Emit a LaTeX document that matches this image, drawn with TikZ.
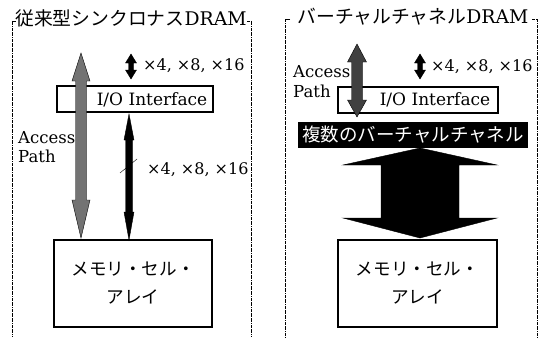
\documentclass[tikz,border=0pt]{standalone}
\usepackage{fontspec}
\setmainfont{DejaVu Serif}
\newfontfamily\jpfont{Noto Sans CJK JP}
\newcommand{\latfont}{\fontsize{17}{19}\selectfont}
\newcommand{\widfont}{\fontsize{16}{19}\selectfont}
\newcommand{\ttlfont}{\fontsize{18.8}{20}\selectfont}

% vertical double arrow: [style]{x}{top}{bottom}{head half}{head top}{head bottom}{shaft half}
\newcommand{\vdarrow}[8][]{%
  \draw[#1] (#2,#3) -- (#2+#5,#3+#6) -- (#2+#8,#3+#6) -- (#2+#8,#4-#7)
    -- (#2+#5,#4-#7) -- (#2,#4) -- (#2-#5,#4-#7) -- (#2-#8,#4-#7)
    -- (#2-#8,#3+#6) -- (#2-#5,#3+#6) -- cycle;}

\tikzset{
  frameline/.style={thin, densely dash dot},
  iobox/.style={draw, line width=1.1pt, fill=white, minimum height=26pt,
    inner sep=0pt},
  cellbox/.style={draw, line width=1.1pt, fill=white, align=center,
    inner sep=0pt, font=\jpfont\fontsize{17.6}{28}\selectfont},
  lbl/.style={font=\latfont, inner sep=0pt},
  widlbl/.style={font=\widfont, inner sep=0pt, anchor=west},
}

\begin{document}
\begin{tikzpicture}[x=1pt,y=-1pt]

  \useasboundingbox (0,0) rectangle (540,337);

  \begin{scope}   % levy panel: konvencni SDRAM

    \draw[frameline] (16,21)--(12,21)--(12,337);
    \draw[frameline] (247,21)--(251,21)--(251,337);
    \node[inner sep=0pt, font=\ttlfont] (ttlL) at (131,18)
         {{\jpfont 従来型シンクロナス}DRAM};

    \node[iobox, minimum width=156pt] (ioL) at (135,99) {};
    \node[lbl] (ioLt) at (152,100) {I/O Interface};

    \node[cellbox, minimum width=158pt, minimum height=87pt] (cellL)
         at (133,283.5) {メモリ・セル・\\アレイ};

    % access path
    \vdarrow[draw=black, fill=black!55]{81}{53}{238}{9}{28}{38}{5.5}
    \node[lbl, align=left, anchor=west, font=\fontsize{16.5}{19}\selectfont]
         (accL) at (18,147.5) {Access\\Path};

    % data bus
    \vdarrow[fill=black]{131}{54}{79}{5.5}{9}{9}{2.3}
    \node[widlbl] (widL) at (143,66) {×4, ×8, ×16};
    \vdarrow[fill=black]{129}{114}{240}{5}{26}{28}{3.5}
    \draw[thin] (120,173)--(137,159);
    \node[widlbl] (busL) at (147,170) {×4, ×8, ×16};

  \end{scope}

  \begin{scope}   % pravy panel: VC-DRAM

    \draw[frameline] (290,19)--(285,19)--(285,337);
    \draw[frameline] (532,19)--(537,19)--(537,337);
    \node[inner sep=0pt, font=\ttlfont] (ttlR) at (413,17)
         {{\jpfont バーチャルチャネル}DRAM};

    \node[iobox, minimum width=160pt] (ioR) at (418,100) {};
    \node[lbl] (ioRt) at (435,100) {I/O Interface};

    \node[fill=black, text=white, minimum width=230pt, minimum height=26pt,
          inner sep=0pt, font=\jpfont\fontsize{18.5}{20}\selectfont]
         (vch) at (413,135) {複数のバーチャルチャネル};

    \vdarrow[fill=black]{420}{148}{238}{77}{17}{20}{39}

    \node[cellbox, minimum width=159pt, minimum height=87pt] (cellR)
         at (417.5,283.5) {メモリ・セル・\\アレイ};

    % access path
    \vdarrow[draw=black, fill=black!75]{357}{44}{117}{9.5}{18}{17}{5.5}
    \node[lbl, align=left, anchor=west, font=\fontsize{16.5}{20}\selectfont]
         (accR) at (293,82) {Access\\Path};

    \vdarrow[fill=black]{420}{54}{79}{5.5}{9}{9}{2.3}
    \node[widlbl] (widR) at (431,67) {×4, ×8, ×16};

  \end{scope}

\end{tikzpicture}
\end{document}
